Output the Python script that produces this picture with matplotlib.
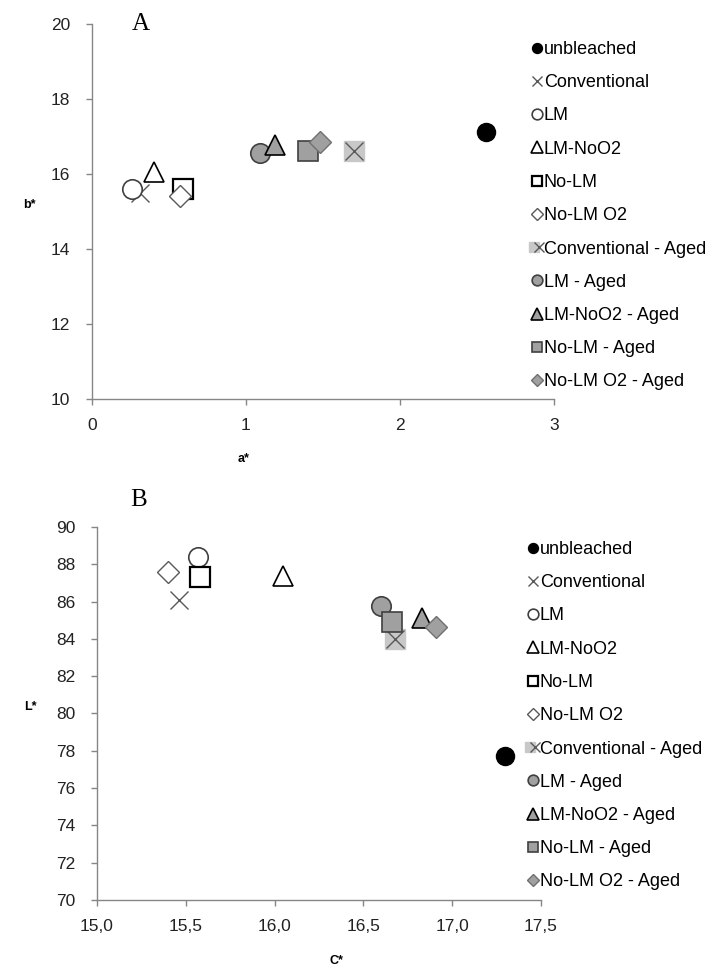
import matplotlib
matplotlib.use("Agg")
import matplotlib.pyplot as plt
from matplotlib.legend_handler import HandlerTuple

plt.rcParams['font.family'] = ['Liberation Sans', 'DejaVu Sans']

# series names (legend order = drawing order)
series = ['unbleached', 'Conventional', 'LM', 'LM-NoO2', 'No-LM', 'No-LM O2',
          'Conventional - Aged', 'LM - Aged', 'LM-NoO2 - Aged', 'No-LM - Aged',
          'No-LM O2 - Aged']

# panel A: a* / b*
a_star = [2.56, 0.31, 0.26, 0.40, 0.59, 0.57, 1.70, 1.09, 1.19, 1.40, 1.48]
b_star = [17.11, 15.48, 15.61, 16.04, 15.61, 15.41, 16.61, 16.57, 16.77, 16.61, 16.86]

# panel B: C* / L*
c_star = [17.30, 15.46, 15.57, 16.05, 15.58, 15.40, 16.68, 16.60, 16.83, 16.66, 16.91]
l_star = [77.7, 86.11, 88.40, 87.36, 87.33, 87.60, 83.97, 85.75, 85.13, 84.92, 84.63]

GRAY = '#a0a0a0'
DARK = '#404040'
AXC = '#868686'

# marker style per series
styles = [
    dict(marker='o', mfc='black', mec='black', ms=13, mew=1),
    dict(marker='x', mfc='none', mec='#595959', ms=13, mew=1.0),
    dict(marker='o', mfc='white', mec=DARK, ms=14, mew=1.2),
    dict(marker='^', mfc='white', mec='black', ms=15, mew=1.2),
    dict(marker='s', mfc='white', mec='black', ms=14, mew=1.6),
    dict(marker='D', mfc='white', mec='#595959', ms=11, mew=1.0),
    None,  # conventional aged drawn as square + x
    dict(marker='o', mfc=GRAY, mec=DARK, ms=14, mew=1.2),
    dict(marker='^', mfc=GRAY, mec='black', ms=15, mew=1.2),
    dict(marker='s', mfc=GRAY, mec=DARK, ms=14, mew=1.2),
    dict(marker='D', mfc=GRAY, mec='#707070', ms=11, mew=1.0),
]


def draw_panel(ax, xs, ys, xlim, ylim, xticks, yticks, xfmt, letter, xlabel, ylabel,
               xlab_pos, ylab_pos, letter_pos, legend_anchor):
    handles = []
    for i, name in enumerate(series):
        if styles[i] is None:
            h1, = ax.plot([xs[i]], [ys[i]], ls='none', marker='s', ms=14,
                          mfc='#c8c8c8', mec='#c8c8c8', zorder=3 + i)
            h2, = ax.plot([xs[i]], [ys[i]], ls='none', marker='x', ms=13,
                          mec='#595959', mew=1.0, zorder=3 + i)
            handles.append((h1, h2))
        else:
            h, = ax.plot([xs[i]], [ys[i]], ls='none', zorder=3 + i, **styles[i])
            handles.append(h)

    ax.set_xlim(*xlim)
    ax.set_ylim(*ylim)
    ax.set_xticks(xticks)
    ax.set_yticks(yticks)
    ax.set_xticklabels([xfmt(v) for v in xticks])
    ax.set_yticklabels([str(v) for v in yticks])
    for s in ['top', 'right']:
        ax.spines[s].set_visible(False)
    for s in ['left', 'bottom']:
        ax.spines[s].set_color(AXC)
        ax.spines[s].set_linewidth(1.0)
    ax.tick_params(direction='out', length=4.5, width=1.0, color=AXC,
                   labelsize=12.5, labelcolor='#222222')
    ax.tick_params(axis='x', pad=9)
    ax.tick_params(axis='y', pad=11)
    ax.set_xlabel(xlabel, fontsize=9, fontweight='bold')
    ax.set_ylabel(ylabel, fontsize=9, fontweight='bold', rotation=0)
    ax.xaxis.set_label_coords(*xlab_pos)
    ax.yaxis.set_label_coords(*ylab_pos)

    ax.text(letter_pos[0], letter_pos[1], letter, transform=ax.transAxes, fontsize=18,
            family='Liberation Serif', va='center', ha='left')

    leg = ax.legend(handles, series, loc='upper left', bbox_to_anchor=legend_anchor,
                    bbox_transform=fig.transFigure, frameon=False, fontsize=13,
                    markerscale=0.55, handlelength=0.55, handletextpad=0.1,
                    labelspacing=0.9, borderpad=0, borderaxespad=0,
                    handler_map={tuple: HandlerTuple(ndivide=None, pad=0)})
    return leg


fig = plt.figure(figsize=(7.25, 9.68), dpi=100)

axA = fig.add_axes([92 / 725, 1 - 399 / 968, 462 / 725, 375 / 968])
draw_panel(axA, a_star, b_star, (0, 3), (10, 20), [0, 1, 2, 3],
           [10, 12, 14, 16, 18, 20], lambda v: str(v), 'A', 'a*', 'b*',
           (0.327, -0.145), (-0.135, 0.5), (0.085, 1.0), (532 / 725, 1 - 41 / 968))

axB = fig.add_axes([97 / 725, 1 - 900 / 968, 444 / 725, 373 / 968])
draw_panel(axB, c_star, l_star, (15, 17.5), (70, 90),
           [15.0, 15.5, 16.0, 16.5, 17.0, 17.5],
           [70, 72, 74, 76, 78, 80, 82, 84, 86, 88, 90],
           lambda v: f'{v:.1f}'.replace('.', ','), 'B', 'C*', 'L*',
           (0.54, -0.147), (-0.15, 0.5), (0.075, 1.072), (528 / 725, 1 - 541 / 968))

fig.savefig('out.png', dpi=100)
